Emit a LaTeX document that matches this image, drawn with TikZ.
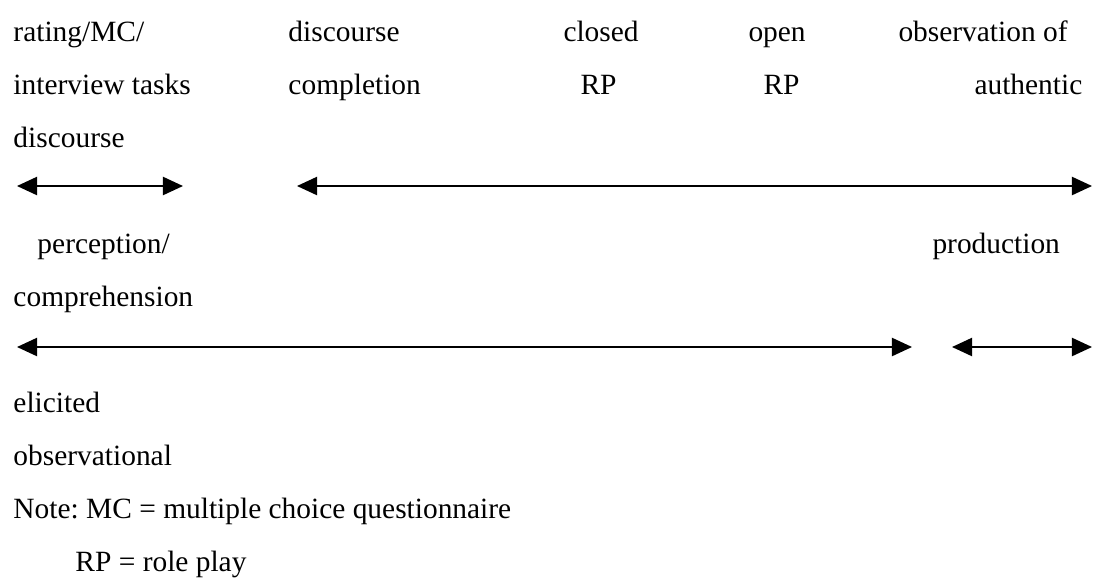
\documentclass[tikz,border=0pt]{standalone}
\usepackage{fontspec}
\setmainfont{Liberation Serif}
\usetikzlibrary{arrows.meta}
\frenchspacing

\begin{document}
\begin{tikzpicture}[x=0.408pt, y=-0.408pt,
  txt/.style={anchor=base west, inner sep=0pt, font=\fontsize{12}{14}\selectfont},
  span/.style={line width=0.8pt, {Triangle[length=8.2pt,width=7.4pt]}-{Triangle[length=8.2pt,width=7.4pt]}}]
  \useasboundingbox (0,0) rectangle (1093,580);

  % Task types
  \node[txt] (rating) at (13,41) {rating/MC/};
  \node[txt] (interview) at (13,94) {interview tasks};
  \node[txt] (authdisc) at (13,147) {discourse};
  \node[txt] (dct1) at (288,41) {discourse};
  \node[txt] (dct2) at (288,94) {completion};
  \node[txt] (crp1) at (563,41) {closed};
  \node[txt] (crp2) at (580,94) {RP};
  \node[txt] (orp1) at (748,41) {open};
  \node[txt] (orp2) at (763,94) {RP};
  \node[txt] (obs1) at (898,41) {observation of};
  \node[txt] (obs2) at (974,94) {authentic};

  % Perception vs. production
  \coordinate (pc-l) at (17,186);
  \coordinate (pc-r) at (183,186);
  \coordinate (pr-l) at (297,186);
  \coordinate (pr-r) at (1092,186);
  \draw[span] (pc-l) -- (pc-r);
  \draw[span] (pr-l) -- (pr-r);

  \node[txt] (perc) at (37,253) {perception/};
  \node[txt] (comp) at (13,306) {comprehension};
  \node[txt] (prod) at (932,253) {production};

  % Elicited vs. observational
  \coordinate (el-l) at (17,347);
  \coordinate (el-r) at (912,347);
  \coordinate (ob-l) at (952,347);
  \coordinate (ob-r) at (1092,347);
  \draw[span] (el-l) -- (el-r);
  \draw[span] (ob-l) -- (ob-r);

  \node[txt] (elic) at (13,412) {elicited};
  \node[txt] (obsv) at (13,465) {observational};

  % Note
  \node[txt] (note) at (13,518) {Note: MC = multiple choice questionnaire};
  \node[txt] (rpnote) at (75,571) {RP = role play};
\end{tikzpicture}
\end{document}
